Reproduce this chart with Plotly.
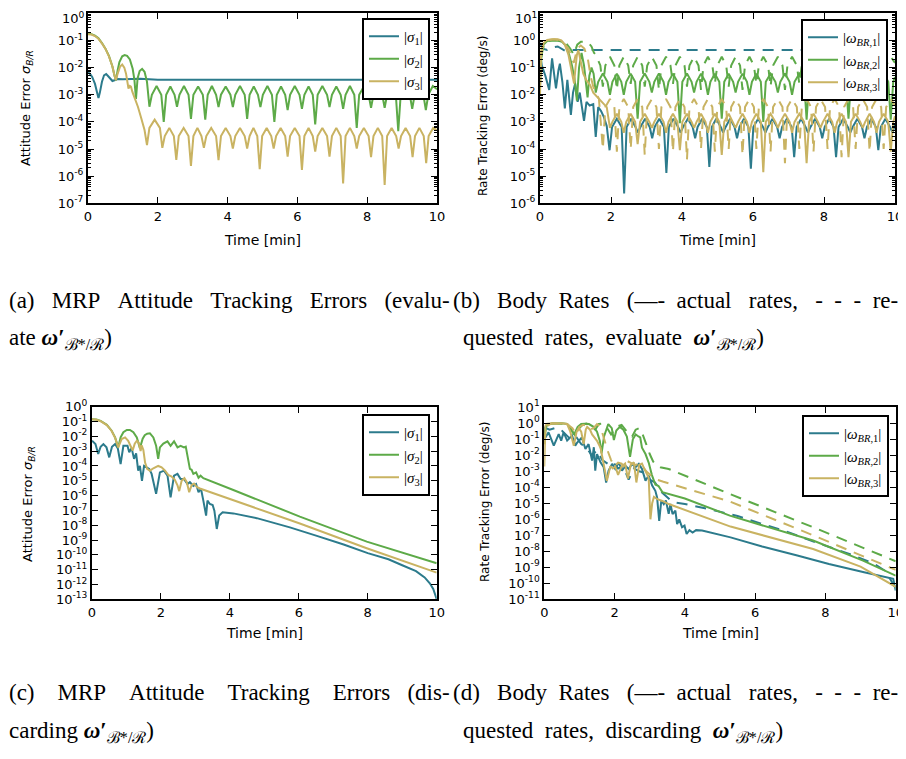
import plotly.graph_objects as go

# The page body keeps an 8px margin, so the figure is drawn 8px in from the
# window corner; every layout position below is given in window pixels.
OFF = 8
FW, FH = 898, 751
TEAL = "#2c7b8c"
GREEN = "#5daa48"
GOLD = "#c9b362"


def px(x):
    return (x - OFF) / FW


def py(y):
    return 1 - (y - OFF) / FH


# ------------------------------------------------------------------ ticks
X_TICKS = [0, 2, 4, 6, 8, 10]
X_TICKTEXT = ["0", "2", "4", "6", "8", "10"]
A_YEXP = [-7, -6, -5, -4, -3, -2, -1, 0]
B_YEXP = [-6, -5, -4, -3, -2, -1, 0, 1]
C_YEXP = [-13, -12, -11, -10, -9, -8, -7, -6, -5, -4, -3, -2, -1, 0]
D_YEXP = [-11, -10, -9, -8, -7, -6, -5, -4, -3, -2, -1, 0, 1]

# ------------------------------------------------------------------ panel (a)
A_T1 = [0, 0.05, 0.12, 0.20, 0.26, 0.30, 0.34, 0.40, 0.46, 0.52, 0.58, 0.64, 0.70,
        0.76, 0.85, 1.0, 1.5, 2.0, 3.0, 4.0, 5.0, 6.0, 7.0, 8.0, 9.0, 10.0]
A_V1 = [6.5e-3, 6.0e-3, 4.5e-3, 2.5e-3, 1.2e-3, 7.5e-4, 1.2e-3, 3.0e-3, 5.2e-3, 5.8e-3,
        4.8e-3, 3.8e-3, 3.2e-3, 3.4e-3, 3.8e-3, 3.7e-3, 3.9e-3, 3.6e-3, 3.6e-3, 3.6e-3,
        3.6e-3, 3.6e-3, 3.6e-3, 3.6e-3, 3.6e-3, 3.6e-3]

A_T2 = [0, 0.1, 0.2, 0.3, 0.4, 0.5, 0.6, 0.7, 0.76, 0.80, 0.85, 0.9, 0.98, 1.05, 1.12,
        1.2, 1.28, 1.33, 1.375, 1.42, 1.48, 1.55, 1.62, 1.69,
        1.76, 1.83, 1.965, 2.10, 2.17, 2.24, 2.36, 2.48, 2.55, 2.62, 2.75, 2.88,
        2.95, 3.02, 3.155, 3.29, 3.36, 3.43, 3.55, 3.67, 3.74, 3.81, 3.945, 4.08,
        4.15, 4.22, 4.355, 4.49, 4.56, 4.63, 4.75, 4.87, 4.94, 5.01, 5.14, 5.27,
        5.34, 5.41, 5.53, 5.65, 5.72, 5.79, 5.925, 6.06, 6.13, 6.20, 6.32, 6.44,
        6.51, 6.58, 6.715, 6.85, 6.92, 6.99, 7.115, 7.24, 7.31, 7.38, 7.505, 7.63,
        7.70, 7.77, 7.905, 8.04, 8.11, 8.18, 8.305, 8.43, 8.50, 8.57, 8.695, 8.82,
        8.89, 8.96, 9.09, 9.22, 9.29, 9.36, 9.485, 9.61, 9.68, 9.75, 9.88, 10.0]
A_V2 = [0.18, 0.17, 0.15, 0.12, 0.08, 0.05, 0.027, 0.011, 5e-3, 3.4e-3, 8e-3, 0.016,
        0.026, 0.029, 0.027, 0.02, 9e-3, 3.5e-3, 7e-4, 4e-3, 7.5e-3, 9e-3, 7e-3, 3e-3,
        3.6e-4, 1.0e-3, 2.1e-3, 1.0e-3, 1.0e-4, 1.0e-3, 2.0e-3, 1.0e-3,
        3.6e-4, 1.0e-3, 2.1e-3, 1.0e-3, 1.3e-4, 1.0e-3, 2.0e-3, 1.0e-3,
        1.2e-4, 1.0e-3, 2.1e-3, 1.0e-3, 3.5e-4, 1.0e-3, 2.0e-3, 1.0e-3,
        3.5e-4, 1.0e-3, 2.1e-3, 1.0e-3, 1.3e-4, 1.0e-3, 2.0e-3, 1.0e-3,
        3.5e-4, 1.0e-3, 2.1e-3, 1.0e-3, 1.0e-4, 1.0e-3, 2.0e-3, 1.0e-3,
        2.7e-4, 1.0e-3, 2.1e-3, 1.0e-3, 3.0e-4, 1.0e-3, 2.0e-3, 1.0e-3,
        8.0e-5, 1.0e-3, 2.1e-3, 1.0e-3, 3.5e-4, 1.0e-3, 2.0e-3, 1.0e-3,
        3.0e-4, 1.0e-3, 2.1e-3, 1.0e-3, 6.0e-5, 1.0e-3, 2.0e-3, 1.0e-3,
        3.3e-4, 1.0e-3, 2.1e-3, 1.0e-3, 3.3e-4, 1.0e-3, 2.0e-3, 1.0e-3,
        4.5e-5, 1.0e-3, 2.1e-3, 1.0e-3, 3.0e-4, 1.0e-3, 2.0e-3, 1.0e-3,
        2.7e-4, 1.0e-3, 2.1e-3, 1.6e-3]

A_T3 = [0, 0.1, 0.2, 0.3, 0.4, 0.5, 0.6, 0.7, 0.76, 0.80, 0.85, 0.92, 0.98, 1.04, 1.09,
        1.13, 1.16, 1.20, 1.23, 1.27, 1.33, 1.43, 1.53, 1.62,
        1.69, 1.76, 1.91, 2.06, 2.13, 2.20, 2.33, 2.46, 2.53, 2.60, 2.74, 2.88,
        2.95, 3.02, 3.135, 3.25, 3.32, 3.39, 3.53, 3.67, 3.74, 3.81, 3.945, 4.08,
        4.15, 4.22, 4.355, 4.49, 4.56, 4.63, 4.74, 4.85, 4.92, 4.99, 5.12, 5.25,
        5.32, 5.39, 5.52, 5.65, 5.72, 5.79, 5.925, 6.06, 6.13, 6.20, 6.32, 6.44,
        6.51, 6.58, 6.715, 6.85, 6.92, 6.99, 7.115, 7.24, 7.31, 7.38, 7.505, 7.63,
        7.70, 7.77, 7.905, 8.04, 8.11, 8.18, 8.305, 8.43, 8.50, 8.57, 8.70, 8.83,
        8.90, 8.97, 9.10, 9.23, 9.30, 9.37, 9.495, 9.62, 9.69, 9.76, 9.89, 10.0]
A_V3 = [0.17, 0.165, 0.145, 0.115, 0.078, 0.049, 0.026, 0.011, 5e-3, 3.4e-3, 6e-3, 0.011,
        0.013, 0.010, 6e-3, 2.8e-3, 1.7e-3, 2.1e-3, 2.0e-3, 1.3e-3, 8.5e-4, 3.6e-4,
        1.3e-4, 5e-5,
        1.4e-5, 6e-5, 1.2e-4, 6e-5, 1.1e-5, 3e-5, 6e-5, 3e-5,
        4.0e-6, 3e-5, 6e-5, 3e-5, 2.4e-6, 3e-5, 6e-5, 3e-5,
        1.1e-5, 3e-5, 6e-5, 3e-5, 3.9e-6, 3e-5, 6e-5, 3e-5,
        1.05e-5, 3e-5, 6e-5, 3e-5, 1.05e-5, 3e-5, 6e-5, 3e-5,
        1.8e-6, 3e-5, 6e-5, 3e-5, 1.05e-5, 3e-5, 6e-5, 3e-5,
        5.2e-6, 3e-5, 6e-5, 3e-5, 1.7e-6, 3e-5, 6e-5, 3e-5,
        8.0e-6, 3e-5, 6e-5, 3e-5, 5.2e-6, 3e-5, 6e-5, 3e-5,
        5.4e-7, 3e-5, 6e-5, 3e-5, 1.05e-5, 3e-5, 6e-5, 3e-5,
        5.0e-6, 3e-5, 6e-5, 3e-5, 4.7e-7, 3e-5, 6e-5, 3e-5,
        1.05e-5, 3e-5, 6e-5, 3e-5, 5.0e-6, 3e-5, 6e-5, 3e-5,
        3.0e-6, 3e-5, 6e-5, 5e-5]

# ------------------------------------------------------------------ panel (b)
B_T_W1 = [0, 0.05, 0.15, 0.26, 0.34, 0.45, 0.52, 0.56, 0.63, 0.70, 0.77, 0.87, 0.93,
          0.99, 1.06, 1.12, 1.24, 1.31, 1.40, 1.50, 1.57, 1.64, 1.72, 1.80, 1.88,
          1.96, 2.03, 2.165, 2.30, 2.37, 2.44, 2.565, 2.69, 2.76, 2.83, 2.96, 3.09,
          3.16, 3.23, 3.36, 3.49, 3.56, 3.63, 3.76, 3.89, 3.96, 4.03, 4.165, 4.30,
          4.37, 4.44, 4.57, 4.70, 4.77, 4.84, 4.965, 5.09, 5.16, 5.23, 5.355, 5.48,
          5.55, 5.62, 5.745, 5.87, 5.94, 6.01, 6.145, 6.28, 6.35, 6.42, 6.55, 6.68,
          6.75, 6.82, 6.955, 7.09, 7.16, 7.23, 7.355, 7.48, 7.55, 7.62, 7.75, 7.88,
          7.95, 8.02, 8.145, 8.27, 8.34, 8.41, 8.54, 8.67, 8.74, 8.81, 8.94, 9.07,
          9.14, 9.21, 9.335, 9.46, 9.53, 9.60, 9.73, 9.86, 9.93, 10.0]
B_V_W1 = [0.3, 0.12, 0.05, 0.015, 0.22, 0.017, 0.08, 0.14, 0.03, 3.1e-3, 0.035, 1.8e-3,
          0.012, 0.026, 5.5e-3, 0.012, 1.1e-3, 5.5e-3, 4e-3, 4.5e-3, 2.8e-4, 3.5e-3,
          2.5e-3, 1.5e-3, 7e-4,
          9e-5, 6.5e-4, 1.3e-3, 6.5e-4, 2.3e-6, 6.5e-4, 1.3e-3, 6.5e-4,
          4e-4, 6.5e-4, 1.3e-3, 6.5e-4, 2.5e-4, 6.5e-4, 1.3e-3, 6.5e-4,
          1.3e-5, 6.5e-4, 1.3e-3, 6.5e-4, 4e-4, 6.5e-4, 1.3e-3, 6.5e-4,
          2.5e-4, 6.5e-4, 1.3e-3, 6.5e-4, 2.2e-5, 6.5e-4, 1.3e-3, 6.5e-4,
          4e-4, 6.5e-4, 1.3e-3, 6.5e-4, 2.5e-4, 6.5e-4, 1.3e-3, 6.5e-4,
          1.9e-5, 6.5e-4, 1.3e-3, 6.5e-4, 4e-4, 6.5e-4, 1.3e-3, 6.5e-4,
          2.5e-4, 6.5e-4, 1.3e-3, 6.5e-4, 5e-5, 6.5e-4, 1.3e-3, 6.5e-4,
          4e-4, 6.5e-4, 1.3e-3, 6.5e-4, 2.5e-4, 6.5e-4, 1.3e-3, 6.5e-4,
          5e-5, 6.5e-4, 1.3e-3, 6.5e-4, 4e-4, 6.5e-4, 1.3e-3, 6.5e-4,
          2.5e-4, 6.5e-4, 1.3e-3, 6.5e-4, 9e-5, 6.5e-4, 1.3e-3, 6.5e-4,
          4e-4, 8e-4]

B_T_W1R = [0, 0.08, 0.2, 0.35, 0.5, 0.6, 0.7, 0.8, 1.0, 2.0, 4.0, 6.0, 8.0, 10.0]
B_V_W1R = [0.8, 0.5, 0.45, 0.55, 0.6, 0.5, 0.42, 0.44, 0.44, 0.44, 0.44, 0.44, 0.44, 0.44]

B_T_W2 = [0, 0.04, 0.1, 0.2, 0.35, 0.5, 0.62, 0.72, 0.82, 0.9, 0.97, 1.04, 1.10, 1.17,
          1.24, 1.30, 1.34, 1.39, 1.45, 1.51,
          1.57, 1.64, 1.77, 1.90, 1.97, 2.04, 2.165, 2.29, 2.36, 2.43, 2.555, 2.68,
          2.75, 2.82, 2.95, 3.08, 3.15, 3.22, 3.35, 3.48, 3.55, 3.62, 3.745, 3.87,
          3.94, 4.01, 4.14, 4.27, 4.34, 4.41, 4.535, 4.66, 4.73, 4.80, 4.925, 5.05,
          5.12, 5.19, 5.315, 5.44, 5.51, 5.58, 5.705, 5.83, 5.90, 5.97, 6.095, 6.22,
          6.29, 6.36, 6.495, 6.63, 6.70, 6.77, 6.90, 7.03, 7.10, 7.17, 7.305, 7.44,
          7.51, 7.58, 7.705, 7.83, 7.90, 7.97, 8.10, 8.23, 8.30, 8.37, 8.495, 8.62,
          8.69, 8.76, 8.89, 9.02, 9.09, 9.16, 9.285, 9.41, 9.48, 9.55, 9.68, 9.81,
          9.88, 9.95, 10.0]
B_V_W2 = [0.02, 0.25, 0.7, 0.95, 1.0, 1.0, 0.9, 0.65, 0.3, 0.12, 0.04, 6e-3, 0.1, 0.35,
          0.12, 0.03, 8e-3, 0.05, 0.1, 0.06,
          0.012, 0.03, 0.06, 0.03, 0.01, 0.03, 0.06, 0.03, 0.01, 0.03, 0.06, 0.03,
          1.3e-3, 0.03, 0.06, 0.03, 0.012, 0.03, 0.06, 0.03, 0.01, 0.03, 0.06, 0.03,
          9e-4, 0.03, 0.06, 0.03, 0.012, 0.03, 0.06, 0.03, 0.01, 0.03, 0.06, 0.03,
          1.3e-3, 0.03, 0.06, 0.03, 0.012, 0.03, 0.06, 0.03, 0.01, 0.03, 0.06, 0.03,
          1.0e-3, 0.03, 0.06, 0.03, 0.012, 0.03, 0.06, 0.03, 0.01, 0.03, 0.06, 0.03,
          1.2e-3, 0.03, 0.06, 0.03, 0.012, 0.03, 0.06, 0.03, 0.01, 0.03, 0.06, 0.03,
          1.3e-3, 0.03, 0.06, 0.03, 0.012, 0.03, 0.06, 0.03, 0.01, 0.03, 0.06, 0.03,
          1.2e-3, 0.03, 0.045]

B_T_W2R = [0, 0.05, 0.15, 0.3, 0.5, 0.7, 0.85, 0.95, 1.05, 1.15, 1.25, 1.35, 1.45, 1.52,
           1.57, 1.70, 1.77, 1.84, 1.97, 2.095, 2.165, 2.235, 2.36, 2.485, 2.555, 2.625,
           2.75, 2.88, 2.95, 3.02, 3.15, 3.28, 3.35, 3.42, 3.55, 3.675, 3.745, 3.815,
           3.94, 4.07, 4.14, 4.21, 4.34, 4.465, 4.535, 4.605, 4.73, 4.855, 4.925, 4.995,
           5.12, 5.245, 5.315, 5.385, 5.51, 5.635, 5.705, 5.775, 5.90, 6.025, 6.095, 6.165,
           6.29, 6.425, 6.495, 6.565, 6.70, 6.83, 6.90, 6.97, 7.10, 7.235, 7.305, 7.375,
           7.51, 7.635, 7.705, 7.775, 7.90, 8.03, 8.10, 8.17, 8.30, 8.425, 8.495, 8.565,
           8.69, 8.82, 8.89, 8.96, 9.09, 9.215, 9.285, 9.355, 9.48, 9.61, 9.68, 9.75,
           9.88, 10.0]
B_V_W2R = [0.05, 0.4, 0.85, 1.0, 1.0, 0.9, 0.5, 0.3, 0.7, 0.9, 0.9, 0.85, 0.6, 0.35,
           0.3, 0.12, 0.02, 0.12, 0.25, 0.12, 0.015, 0.12, 0.25, 0.12, 0.025, 0.12,
           0.25, 0.12, 0.02, 0.12, 0.25, 0.12, 0.015, 0.12, 0.25, 0.12, 0.025, 0.12,
           0.25, 0.12, 0.02, 0.12, 0.25, 0.12, 0.015, 0.12, 0.25, 0.12, 0.025, 0.12,
           0.25, 0.12, 0.02, 0.12, 0.25, 0.12, 0.015, 0.12, 0.25, 0.12, 0.025, 0.12,
           0.25, 0.12, 0.02, 0.12, 0.25, 0.12, 0.015, 0.12, 0.25, 0.12, 0.025, 0.12,
           0.25, 0.12, 0.02, 0.12, 0.25, 0.12, 0.015, 0.12, 0.25, 0.12, 0.025, 0.12,
           0.25, 0.12, 0.02, 0.12, 0.25, 0.12, 0.015, 0.12, 0.25, 0.12, 0.025, 0.12,
           0.25, 0.15]

B_T_W3 = [0, 0.03, 0.1, 0.2, 0.35, 0.5, 0.6, 0.7, 0.8, 0.88, 0.93, 0.96, 1.0, 1.04,
          1.08, 1.15, 1.22, 1.30, 1.41, 1.50, 1.60, 1.70, 1.78, 1.88,
          1.97, 2.04, 2.165, 2.29, 2.36, 2.43, 2.555, 2.68,
          2.75, 2.82, 2.95, 3.08, 3.15, 3.22, 3.35, 3.48, 3.55, 3.62, 3.745, 3.87,
          3.94, 4.01, 4.14, 4.27, 4.34, 4.41, 4.535, 4.66, 4.73, 4.80, 4.925, 5.05,
          5.12, 5.19, 5.315, 5.44, 5.51, 5.58, 5.705, 5.83, 5.90, 5.97, 6.095, 6.22,
          6.29, 6.36, 6.495, 6.63, 6.70, 6.77, 6.90, 7.03, 7.10, 7.17, 7.305, 7.44,
          7.51, 7.58, 7.705, 7.83, 7.90, 7.97, 8.10, 8.23, 8.30, 8.37, 8.495, 8.62,
          8.69, 8.76, 8.89, 9.02, 9.09, 9.16, 9.285, 9.41, 9.48, 9.55, 9.68, 9.81,
          9.88, 9.95, 10.0]
B_V_W3 = [0.01, 0.3, 0.8, 1.05, 1.1, 1.1, 1.0, 0.7, 0.3, 0.08, 0.03, 0.026, 0.1, 0.3,
          0.44, 0.15, 0.06, 0.035, 0.023, 0.012, 8.5e-3, 6e-3, 5e-3, 3.5e-3,
          6e-4, 1e-3, 2e-3, 1e-3, 4e-4, 1e-3, 2e-3, 1e-3,
          1.5e-4, 1e-3, 2e-3, 1e-3, 6e-4, 1e-3, 2e-3, 1e-3, 4e-4, 1e-3, 2e-3, 1e-3,
          9e-5, 1e-3, 2e-3, 1e-3, 6e-4, 1e-3, 2e-3, 1e-3, 4e-4, 1e-3, 2e-3, 1e-3,
          6e-5, 1e-3, 2e-3, 1e-3, 6e-4, 1e-3, 2e-3, 1e-3, 4e-4, 1e-3, 2e-3, 1e-3,
          1.4e-5, 1e-3, 2e-3, 1e-3, 6e-4, 1e-3, 2e-3, 1e-3, 4e-4, 1e-3, 2e-3, 1e-3,
          3e-5, 1e-3, 2e-3, 1e-3, 6e-4, 1e-3, 2e-3, 1e-3, 4e-4, 1e-3, 2e-3, 1e-3,
          5e-5, 1e-3, 2e-3, 1e-3, 6e-4, 1e-3, 2e-3, 1e-3, 4e-4, 1e-3, 2e-3, 1e-3,
          8e-5, 1e-3, 1.6e-3]

B_T_W3R = [0, 0.04, 0.15, 0.4, 0.6, 0.8, 0.95, 1.05, 1.15, 1.25, 1.35, 1.43, 1.5, 1.58,
           1.66,
           1.77, 1.84, 1.97, 2.095, 2.165, 2.235, 2.36, 2.485, 2.555, 2.625, 2.75, 2.88,
           2.95, 3.02, 3.15, 3.28, 3.35, 3.42, 3.55, 3.675, 3.745, 3.815, 3.94, 4.07,
           4.14, 4.21, 4.34, 4.465, 4.535, 4.605, 4.73, 4.855, 4.925, 4.995, 5.12, 5.245,
           5.315, 5.385, 5.51, 5.635, 5.705, 5.775, 5.90, 6.025, 6.095, 6.165, 6.29, 6.425,
           6.495, 6.565, 6.70, 6.83, 6.90, 6.97, 7.10, 7.235, 7.305, 7.375, 7.51, 7.635,
           7.705, 7.775, 7.90, 8.03, 8.10, 8.17, 8.30, 8.425, 8.495, 8.565, 8.69, 8.82,
           8.89, 8.96, 9.09, 9.215, 9.285, 9.355, 9.48, 9.61, 9.68, 9.75, 9.88, 10.0]
B_V_W3R = [0.05, 0.5, 1.0, 1.1, 1.0, 0.5, 0.15, 0.5, 0.65, 0.5, 0.2, 0.045, 0.02, 0.011,
           7e-3,
           1e-4, 3.5e-3, 7e-3, 3.5e-3, 8e-5, 3.5e-3, 7e-3, 3.5e-3, 1e-4, 3.5e-3, 7e-3, 3.5e-3,
           6e-5, 3.5e-3, 7e-3, 3.5e-3, 1e-4, 3.5e-3, 7e-3, 3.5e-3, 8e-5, 3.5e-3, 7e-3, 3.5e-3,
           4e-5, 3.5e-3, 7e-3, 3.5e-3, 1e-4, 3.5e-3, 7e-3, 3.5e-3, 8e-5, 3.5e-3, 7e-3, 3.5e-3,
           1e-4, 3.5e-3, 7e-3, 3.5e-3, 6e-5, 3.5e-3, 7e-3, 3.5e-3, 1e-4, 3.5e-3, 7e-3, 3.5e-3,
           8e-5, 3.5e-3, 7e-3, 3.5e-3, 3e-5, 3.5e-3, 7e-3, 3.5e-3, 1e-4, 3.5e-3, 7e-3, 3.5e-3,
           8e-5, 3.5e-3, 7e-3, 3.5e-3, 1e-4, 3.5e-3, 7e-3, 3.5e-3, 5e-5, 3.5e-3, 7e-3, 3.5e-3,
           1e-4, 3.5e-3, 7e-3, 3.5e-3, 8e-5, 3.5e-3, 7e-3, 3.5e-3, 1e-4, 3.5e-3, 7e-3, 4e-3]

# ------------------------------------------------------------------ panel (c)
C_T1 = [0, 0.1, 0.18, 0.25, 0.33, 0.42, 0.50, 0.58, 0.67, 0.75, 0.83, 0.91, 1.03, 1.08,
        1.15, 1.22, 1.28, 1.34, 1.39, 1.45, 1.51, 1.59, 1.66, 1.73, 1.86, 1.97, 2.09,
        2.19, 2.28, 2.38, 2.48, 2.57, 2.67, 2.77, 2.84, 2.94, 3.02, 3.09, 3.16, 3.23,
        3.31, 3.35, 3.42, 3.50, 3.55, 3.62, 3.69, 3.79, 3.91, 4.10, 4.78, 5.74, 6.5,
        7.3, 8.0, 8.6, 9.0, 9.4, 9.65, 9.8, 9.9, 9.95, 10.0]
C_V1 = [5.1e-3, 3e-3, 6.5e-4, 2e-3, 3e-3, 1.8e-3, 3.8e-4, 2e-3, 3e-3, 1.5e-3, 1.35e-4,
        2.3e-3, 2.3e-3, 8.3e-4, 1.6e-3, 3e-4, 7e-4, 4.8e-5, 1e-4, 1e-5, 1e-4, 8e-5,
        6.3e-5, 2.9e-5, 1.3e-6, 3.7e-5, 4.8e-5, 2.2e-5, 7.6e-7, 2.2e-5, 2.9e-5, 1.3e-5,
        1.3e-5, 6e-6, 8e-6, 4.5e-6, 6e-6, 1.7e-6, 3e-6, 4.6e-7, 4.5e-8, 4.6e-7, 2.7e-7,
        2.3e-7, 9.5e-8, 5.6e-9, 4.5e-8, 7.4e-8, 7e-8, 6.3e-8, 3e-8, 7.2e-9, 2e-9,
        5e-10, 1.3e-10, 5e-11, 2e-11, 8e-12, 3e-12, 1.2e-12, 5e-13, 2.5e-13, 1e-13]

C_T2 = [0, 0.13, 0.25, 0.33, 0.43, 0.57, 0.67, 0.73, 0.76, 0.83, 0.91, 1.01, 1.10, 1.20,
        1.30, 1.39, 1.47, 1.53, 1.60, 1.68, 1.78, 1.86, 1.92, 1.97, 2.07, 2.19, 2.28,
        2.38, 2.48, 2.57, 2.67, 2.72, 2.77, 2.84, 2.89, 2.94, 3.02, 3.09, 3.15, 3.23,
        4.1, 6.03, 7.97, 10.0]
C_V2 = [0.14, 0.135, 0.11, 0.087, 0.06, 0.024, 8.5e-3, 3e-3, 1.8e-3, 8.5e-3, 0.019,
        0.027, 0.027, 0.019, 8.5e-3, 1.6e-3, 7e-3, 0.012, 0.015, 0.016, 8.5e-3, 2.3e-3,
        3e-4, 1.8e-3, 3.2e-3, 4.6e-3, 2.3e-3, 4.6e-3, 1.8e-3, 2.3e-3, 1.8e-3, 2e-3,
        3.8e-4, 6.3e-5, 5.5e-5, 2.9e-5, 3.7e-5, 1.6e-5, 2.2e-5, 1.5e-5, 2.4e-6, 3.8e-8,
        7.8e-10, 2.7e-11]

C_T3 = [0, 0.13, 0.25, 0.33, 0.43, 0.57, 0.67, 0.73, 0.76, 0.86, 0.96, 1.05, 1.12, 1.18,
        1.24, 1.30, 1.36, 1.41, 1.44, 1.49, 1.54, 1.60, 1.68, 1.78, 1.92, 2.02, 2.12,
        2.21, 2.30, 2.40, 2.48, 2.53, 2.60, 2.68, 2.75, 2.82, 2.89, 2.96, 3.04, 3.13,
        6.03, 7.97, 10.0]
C_V3 = [0.14, 0.13, 0.105, 0.083, 0.057, 0.023, 8e-3, 3e-3, 1.8e-3, 6.6e-3, 8.5e-3, 5e-3,
        2.3e-3, 1.1e-3, 3.2e-3, 5e-3, 3.5e-3, 1e-3, 2.5e-3, 1.2e-3, 1.7e-4, 6.3e-5,
        4.8e-5, 7e-5, 1e-4, 8e-5, 4.8e-5, 2.5e-5, 2e-5, 1.2e-5, 5e-6, 2e-6, 1e-5,
        1.5e-5, 8e-6, 1.7e-6, 5e-6, 6.5e-6, 3.8e-6, 3e-6, 1.3e-8, 2.8e-10, 6.3e-12]

# ------------------------------------------------------------------ panel (d)
D_T_W1 = [0, 0.03, 0.12, 0.27, 0.41, 0.48, 0.55, 0.65, 0.79, 0.88, 0.93, 1.07, 1.17,
          1.26, 1.36, 1.41, 1.45, 1.50, 1.60, 1.69, 1.76, 1.83, 1.93, 2.02, 2.12, 2.21,
          2.31, 2.40, 2.50, 2.59, 2.69, 2.78, 2.88, 2.97, 3.07, 3.16, 3.21, 3.27, 3.33,
          3.40, 3.46, 3.54, 3.59, 3.65, 3.73, 3.78, 3.84, 3.92, 3.99, 4.05, 4.13, 4.22,
          4.32, 4.49, 5.3, 6.2, 7.2, 8.1, 9.1, 9.7, 9.93, 10.0]
D_V_W1 = [0.5, 0.13, 0.27, 0.04, 0.21, 0.083, 0.27, 0.083, 0.17, 0.04, 0.06, 0.13, 0.025,
          0.05, 4.7e-3, 0.032, 1.1e-3, 0.012, 3.6e-3, 1.8e-3, 2e-4, 1.1e-3, 2.9e-3,
          1.4e-3, 3.6e-3, 1.1e-3, 2.2e-3, 1.4e-3, 2.9e-3, 1.8e-3, 2.9e-3, 1.4e-3, 2.6e-4,
          5.4e-4, 1.3e-4, 6e-5, 2.3e-5, 8e-7, 1.5e-5, 9e-6, 1.5e-5, 2.2e-6, 9e-6, 2.1e-6,
          3.5e-6, 5e-7, 1e-6, 3.2e-7, 4e-7, 1.2e-7, 2.1e-7, 1.5e-7, 2.1e-7, 2e-7, 7.4e-8,
          2e-8, 5.4e-9, 1.6e-9, 4.9e-10, 2.3e-10, 1.9e-10, 3.5e-11]

D_T_W1R = [0, 0.05, 0.15, 0.3, 0.45, 0.6, 0.75, 0.9, 1.05, 1.2, 1.35, 1.5, 1.65, 1.8,
           1.95, 2.1, 2.25, 2.4, 2.55, 2.7, 2.85, 3.0, 3.15, 3.3, 3.45, 3.6, 3.75, 4.0,
           4.8, 5.5, 6.15, 6.8, 7.45, 8.1, 8.75, 9.4, 9.7, 10.0]
D_V_W1R = [0.6, 0.5, 0.4, 0.5, 0.45, 0.2, 0.1, 0.15, 0.05, 0.03, 0.01, 0.02, 5e-3, 3e-3,
           4e-3, 1.5e-3, 2e-3, 3e-4, 1.5e-3, 1e-3, 8e-4, 3e-4, 2e-4, 6e-5, 3e-5, 1.5e-5,
           1.1e-5, 9e-6, 3.8e-6, 1.6e-6, 5.6e-7, 2e-7, 6e-8, 2e-8, 6e-9, 1.6e-9, 6e-10,
           5e-11]

D_T_W2 = [0, 0.03, 0.1, 0.3, 0.5, 0.65, 0.75, 0.85, 0.95, 1.05, 1.15, 1.27, 1.4, 1.5,
          1.58, 1.63, 1.7, 1.82, 1.92, 1.98, 2.05, 2.15, 2.25, 2.35, 2.44, 2.52, 2.6,
          2.68, 2.73, 2.78, 2.88, 2.97, 3.06, 3.16, 3.25, 3.36, 4.0, 5.28, 7.65, 9.07, 10.0]
D_V_W2 = [0.05, 0.5, 0.9, 1.0, 1.0, 0.9, 0.5, 0.2, 0.6, 0.9, 0.95, 0.9, 0.6, 0.3, 0.08,
          0.013, 0.15, 0.9, 0.5, 0.09, 0.35, 0.6, 0.4, 0.15, 8e-3, 0.1, 0.2, 0.15, 0.13,
          0.03, 0.012, 3.5e-3, 6e-4, 1.5e-4, 1.2e-4, 5e-5, 2e-5, 1.7e-6, 4.7e-8, 2.6e-9,
          3e-10]

D_T_W2R = [0, 0.05, 0.2, 0.4, 0.6, 0.75, 0.9, 1.0, 1.1, 1.2, 1.3, 1.45, 1.55, 1.65, 1.75,
           1.9, 2.05, 2.2, 2.35, 2.5, 2.6, 2.7, 2.8, 2.9, 3.0, 3.1, 3.2, 3.3, 3.54, 5.28,
           7.65, 10.0]
D_V_W2R = [0.1, 0.6, 1.0, 1.0, 0.9, 0.4, 0.15, 0.5, 0.85, 0.95, 0.8, 0.4, 0.9, 0.95, 0.7,
           0.2, 0.6, 0.8, 0.3, 0.15, 0.4, 0.5, 0.2, 0.05, 0.012, 4e-3, 2.2e-3, 1.8e-3,
           1.4e-3, 3.8e-5, 3.2e-7, 2.4e-9]

D_T_W3 = [0, 0.03, 0.08, 0.3, 0.5, 0.65, 0.74, 0.84, 0.92, 0.98, 1.05, 1.12, 1.18, 1.22,
          1.3, 1.36, 1.5, 1.6, 1.64, 1.72, 1.78, 1.88, 1.95, 2.02, 2.1, 2.2, 2.3, 2.38,
          2.46, 2.55, 2.62, 2.7, 2.78, 2.88, 2.97, 3.02, 3.07, 3.12, 3.22, 3.36, 3.54,
          5.3, 7.65, 9.0, 10.0]
D_V_W3 = [2e-3, 0.7, 0.95, 1.0, 1.0, 0.9, 0.3, 0.04, 0.3, 0.5, 0.3, 0.05, 0.4, 0.6, 0.4,
          0.2, 0.08, 0.03, 0.01, 2e-3, 2.5e-4, 2.1e-3, 1.5e-3, 2e-3, 6e-4, 2e-3, 3e-3,
          3.5e-4, 2.5e-3, 3.6e-3, 2e-4, 2.5e-3, 3e-3, 1e-3, 4e-4, 1e-6, 1e-5, 2.5e-5,
          1.8e-5, 1.4e-5, 9e-6, 3.5e-7, 1.4e-8, 1.1e-9, 6e-11]

D_T_W3R = [0, 0.05, 0.2, 0.45, 0.65, 0.8, 0.9, 1.0, 1.1, 1.2, 1.3, 1.4, 1.5, 1.6, 1.7,
           1.8, 1.9, 2.0, 2.1, 2.2, 2.3, 2.4, 2.5, 2.6, 2.7, 2.8, 2.9, 3.0, 3.1, 3.2, 3.39,
           5.28, 7.65, 9.93, 10.0]
D_V_W3R = [0.05, 0.6, 1.0, 1.0, 0.9, 0.5, 0.2, 0.6, 0.8, 0.7, 0.4, 0.5, 0.9, 0.6, 0.1,
           0.02, 5e-3, 2e-3, 3.5e-3, 3e-3, 1.5e-3, 4e-3, 3e-3, 2.5e-3, 3e-3, 2e-3, 1e-3,
           6e-4, 4e-4, 3e-4, 2.2e-4, 1.3e-5, 1e-7, 8e-10, 7e-10]

# ------------------------------------------------------------------ labels
SIG = ["|<i>σ</i><sub>1</sub>|", "|<i>σ</i><sub>2</sub>|", "|<i>σ</i><sub>3</sub>|"]
OMG = ["|<i>ω</i><sub><i>BR</i>,1</sub>|", "|<i>ω</i><sub><i>BR</i>,2</sub>|",
       "|<i>ω</i><sub><i>BR</i>,3</sub>|"]

# ------------------------------------------------------------------ figure
fig = go.Figure()


def add(t, v, color, xa, ya, name=None, dash="solid", legend=None):
    if len(t) != len(v):
        raise ValueError(f"length mismatch {name} {len(t)} {len(v)}")
    kw = dict(legend=legend) if legend else {}
    fig.add_trace(go.Scatter(x=t, y=v, mode="lines", xaxis=xa, yaxis=ya,
                             line=dict(color=color, width=2, dash=dash),
                             name=name if name else "", showlegend=name is not None,
                             hoverinfo="skip", **kw))


DASH = "11px,8px"
add(A_T1, A_V1, TEAL, "x", "y", SIG[0], legend="legend")
add(A_T2, A_V2, GREEN, "x", "y", SIG[1], legend="legend")
add(A_T3, A_V3, GOLD, "x", "y", SIG[2], legend="legend")

add(B_T_W1, B_V_W1, TEAL, "x2", "y2", OMG[0], legend="legend2")
add(B_T_W1R, B_V_W1R, TEAL, "x2", "y2", dash=DASH)
add(B_T_W2, B_V_W2, GREEN, "x2", "y2", OMG[1], legend="legend2")
add(B_T_W2R, B_V_W2R, GREEN, "x2", "y2", dash=DASH)
add(B_T_W3, B_V_W3, GOLD, "x2", "y2", OMG[2], legend="legend2")
add(B_T_W3R, B_V_W3R, GOLD, "x2", "y2", dash=DASH)

add(C_T1, C_V1, TEAL, "x3", "y3", SIG[0], legend="legend3")
add(C_T2, C_V2, GREEN, "x3", "y3", SIG[1], legend="legend3")
add(C_T3, C_V3, GOLD, "x3", "y3", SIG[2], legend="legend3")

add(D_T_W1, D_V_W1, TEAL, "x4", "y4", OMG[0], legend="legend4")
add(D_T_W1R, D_V_W1R, TEAL, "x4", "y4", dash=DASH)
add(D_T_W2, D_V_W2, GREEN, "x4", "y4", OMG[1], legend="legend4")
add(D_T_W2R, D_V_W2R, GREEN, "x4", "y4", dash=DASH)
add(D_T_W3, D_V_W3, GOLD, "x4", "y4", OMG[2], legend="legend4")
add(D_T_W3R, D_V_W3R, GOLD, "x4", "y4", dash=DASH)

TICKFONT = dict(family="DejaVu Sans", size=13, color="black")
AX = dict(showline=True, linecolor="black", linewidth=2, mirror="allticks",
          ticks="inside", ticklen=6, tickwidth=1.2, tickcolor="black",
          showgrid=False, zeroline=False, automargin=False,
          ticklabeloverflow="allow", tickfont=TICKFONT)


def tick_label(e):
    return f"10<sup>{e}</sup>"


def xaxis(x0, x1, anchor):
    return dict(domain=[px(x0), px(x1)], anchor=anchor, range=[0, 10],
                tickmode="array", tickvals=X_TICKS, ticktext=X_TICKTEXT, **AX)


def yaxis(y_top, y_bot, anchor, exps, minor, top_label=True):
    vals = [10.0 ** e for e in exps]
    text = [tick_label(e) for e in exps]
    if not top_label:
        text[-1] = ""          # drawn as an annotation so it is not clipped
    d = dict(domain=[py(y_bot), py(y_top)], anchor=anchor, type="log",
             range=[exps[0], exps[-1]], tickmode="array", tickvals=vals,
             ticktext=text, **AX)
    if minor:
        mv = [k * 10.0 ** e for e in exps[:-1] for k in range(2, 10)]
        d["minor"] = dict(tickmode="array", tickvals=mv, ticks="inside", ticklen=3,
                          tickwidth=1, tickcolor="black", showgrid=False)
    return d


def legend_cfg(xr, yt):
    return dict(x=px(xr), y=py(yt), xanchor="right", yanchor="top",
                bgcolor="white", bordercolor="black", borderwidth=2,
                font=dict(family="Liberation Serif", size=15, color="black"),
                itemclick=False, itemdoubleclick=False)


NB = "\u00a0"
OM = "<b><i>ω</i>′</b><sub>ℬ*/ℛ</sub>"
CAPTIONS = [
    (8, 300, "(a)" + NB * 3 + "MRP" + NB * 3 + "Attitude" + NB * 3 + "Tracking" + NB * 3
     + "Errors" + NB * 3 + "(evalu-"),
    (8, 339, "ate" + NB + OM + ")"),
    (452, 300, "(b)" + NB * 3 + "Body" + NB * 2 + "Rates" + NB * 3 + "(—-" + NB * 2
     + "actual" + NB * 3 + "rates," + NB * 3 + "-" + NB * 2 + "-" + NB * 2 + "-"
     + NB * 2 + "re-"),
    (462, 339, "quested" + NB * 2 + "rates," + NB * 2 + "evaluate" + NB * 2 + OM + ")"),
    (8, 692, "(c)" + NB * 4 + "MRP" + NB * 4 + "Attitude" + NB * 4 + "Tracking" + NB * 4
     + "Errors" + NB * 3 + "(dis-"),
    (8, 732, "carding" + NB + OM + ")"),
    (452, 692, "(d)" + NB * 3 + "Body" + NB * 2 + "Rates" + NB * 3 + "(—-" + NB * 2
     + "actual" + NB * 3 + "rates," + NB * 3 + "-" + NB * 2 + "-" + NB * 2 + "-"
     + NB * 2 + "re-"),
    (462, 732, "quested" + NB * 2 + "rates," + NB * 2 + "discarding" + NB * 2 + OM + ")"),
]

AXTITLES = [
    (262.5, 240, "Time [min]", 0, 14),
    (717.5, 240, "Time [min]", 0, 14),
    (264.3, 633, "Time [min]", 0, 14),
    (720.0, 633, "Time [min]", 0, 14),
    (26, 108, "Attitude Error <i>σ</i><sub><i>B/R</i></sub>", -90, 13),
    (483, 116, "Rate Tracking Error (deg/s)", -90, 12),
    (28, 504, "Attitude Error <i>σ</i><sub><i>B/R</i></sub>", -90, 13),
    (485, 502, "Rate Tracking Error (deg/s)", -90, 12),
]

annotations = []
for x, y, txt in CAPTIONS:
    annotations.append(dict(text=txt, x=px(x), y=py(y), xref="paper", yref="paper",
                            xanchor="left", yanchor="middle", align="left",
                            showarrow=False, borderpad=0,
                            font=dict(family="Liberation Serif", size=23, color="black")))
for x, y, txt, ang, sz in AXTITLES:
    annotations.append(dict(text=txt, x=px(x), y=py(y), xref="paper", yref="paper",
                            xanchor="center", yanchor="middle", showarrow=False,
                            textangle=ang,
                            font=dict(family="DejaVu Sans", size=sz, color="black")))
# top decade labels of the two upper panels, nudged inside the page
for x, e in [(86, A_YEXP[-1]), (538, B_YEXP[-1])]:
    annotations.append(dict(text=tick_label(e), x=px(x), y=py(9), xref="paper",
                            yref="paper", xanchor="right", yanchor="top",
                            showarrow=False, borderpad=0, font=TICKFONT))

fig.update_layout(
    width=FW, height=FH, autosize=False,
    margin=dict(l=0, r=0, t=0, b=0, pad=0),
    paper_bgcolor="white", plot_bgcolor="white",
    font=dict(family="DejaVu Sans", color="black"),
    xaxis=xaxis(88, 437, "y"),
    yaxis=yaxis(13.3, 203.3, "x", A_YEXP, True, top_label=False),
    xaxis2=xaxis(540, 895, "y2"),
    yaxis2=yaxis(13.3, 203.3, "x2", B_YEXP, True, top_label=False),
    xaxis3=xaxis(92, 436.7, "y3"),
    yaxis3=yaxis(406.7, 599.3, "x3", C_YEXP, False),
    xaxis4=xaxis(544.3, 895.7, "y4"),
    yaxis4=yaxis(407.3, 599.3, "x4", D_YEXP, False),
    legend=legend_cfg(430, 18),
    legend2=legend_cfg(888, 19),
    legend3=legend_cfg(430, 414),
    legend4=legend_cfg(889, 415),
    annotations=annotations,
    showlegend=True,
)

fig.write_html("out.html")
